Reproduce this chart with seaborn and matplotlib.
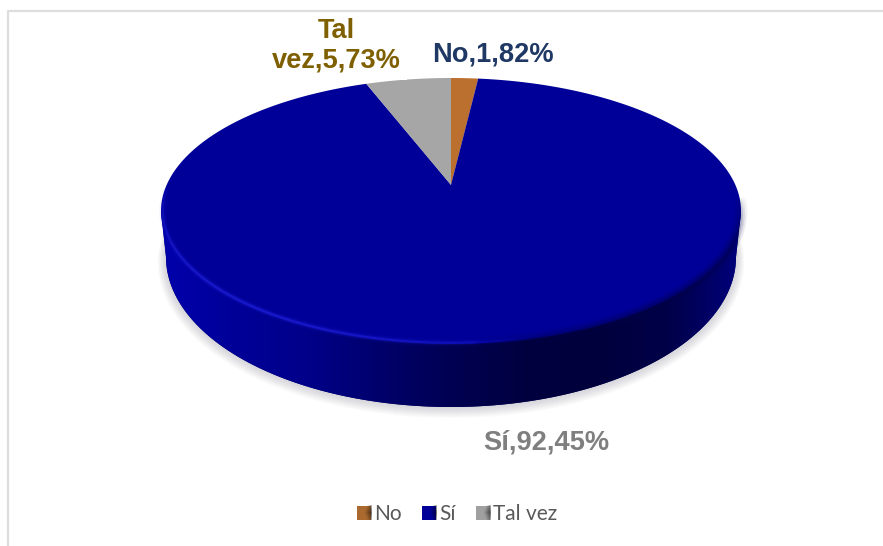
import numpy as np
import matplotlib
matplotlib.use("Agg")
import matplotlib.pyplot as plt
from matplotlib.collections import LineCollection
from matplotlib.colors import to_rgb
from matplotlib.patches import PathPatch, Polygon
from matplotlib.path import Path
from matplotlib.transforms import Transform
import seaborn as sns

# Survey answers, in percent
categories = ["No", "Sí", "Tal vez"]
shares = [1.82, 92.45, 5.73]
slice_colors = ["#BC7030", "#000098", "#A6A6A6"]
swatch_colors = ["#A9692F", "#000098", "#A0A0A0"]
label_colors = ["#1F3864", "#7F7F7F", "#7F6000"]
label_texts = ["No,1,82%", "Sí,92,45%", "Tal\nvez,5,73%"]
wall_colors = ["#0000AC", "#000098", "#00008A", "#00006C", "#000052",
               "#000040", "#00003C", "#000048", "#00007C"]


class TiltedDisc(Transform):
    """Perspective projection of the unit disc onto the page, in pixels."""
    input_dims = output_dims = 2

    def __init__(self, apex_x, apex_y, far_y, near_y, half_width):
        super().__init__()
        up, down = apex_y - far_y, near_y - apex_y
        self.k = (down - up) / (down + up)
        self.a = up * (1 + self.k)
        self.b = half_width * np.sqrt(1 - self.k ** 2)
        self.apex_x, self.apex_y = apex_x, apex_y

    def transform_non_affine(self, values):
        values = np.asarray(values, dtype=float)
        w = 1 + self.k * values[:, 1]
        return np.column_stack([self.apex_x + self.b * values[:, 0] / w,
                                self.apex_y - self.a * values[:, 1] / w])

    def transform_path_non_affine(self, path):
        # Flatten the wedge's Bezier arcs so the projected rim stays smooth
        steps = np.linspace(0, 1, 25)
        points = [curve(steps) for curve, code in path.iter_bezier() if code != Path.MOVETO]
        return Path(self.transform_non_affine(np.vstack(points)))


sns.set_theme(style="white", rc={"axes.facecolor": "white", "figure.facecolor": "white"})

fig = plt.figure(figsize=(8.83, 5.46), dpi=100)
canvas = fig.add_axes([0, 0, 1, 1])


def fix_canvas():
    canvas.set_aspect("auto")
    canvas.set_xlim(0, 883)
    canvas.set_ylim(546, 0)
    canvas.axis("off")


fix_canvas()

# Frame around the chart area, kept above the label backgrounds
canvas.plot([8, 8, 883], [546, 11, 11], color="#DDDDDD", lw=1.6, zorder=7)

top = TiltedDisc(451, 185, 78, 344, 290)
lower = TiltedDisc(451, 231, 107, 407, 285)
theta = np.linspace(0, 2 * np.pi, 720, endpoint=False)
circle = np.column_stack([np.cos(theta), np.sin(theta)])
top_pts = top.transform_non_affine(circle)
low_pts = lower.transform_non_affine(circle)

# Soft shadow under the disc
for grow in np.linspace(11, 1, 11):
    shadow = TiltedDisc(451, 231 + grow * 0.45, 107, 407 + grow, 285 + grow * 0.75)
    pts = shadow.transform_non_affine(circle)
    canvas.fill(pts[:, 0], pts[:, 1], color="#666677", alpha=0.022, lw=0, zorder=1)

# Side wall, shaded from left to right
left, right = low_pts[:, 0].argmin(), low_pts[:, 0].argmax()
order = np.arange(left, right + (720 if right < left else 0) + 1) % 720
wall_xy = np.vstack([top_pts[[top_pts[:, 0].argmin()]], low_pts[order], top_pts[[top_pts[:, 0].argmax()]]])
wall_path = Path(np.vstack([wall_xy, wall_xy[:1]]))
wall = PathPatch(wall_path, transform=canvas.transData, fc="#000060", ec="none", zorder=2)
canvas.add_patch(wall)
wall_map = sns.blend_palette(wall_colors, as_cmap=True)
shade = canvas.imshow(np.linspace(0, 1, 256)[None, :], cmap=wall_map, extent=[161, 741, 420, 190],
                      aspect="auto", zorder=2.1)
shade.set_clip_path(wall)

# Top face of the pie, laid out by the library and then tilted
wedges, _ = canvas.pie(shares, colors=slice_colors, startangle=90, counterclock=False,
                       radius=1, center=(0, 0), frame=False, wedgeprops={"linewidth": 0})
fix_canvas()
for w in wedges:
    w.set_transform(top + canvas.transData)
    w.set_zorder(3)


def rim_glow(start, stop, color, width, strength, inset=0.0):
    """Stroke part of the near rim, fading towards both ends."""
    t = np.linspace(start, stop, 200) * np.pi
    unit = (1 - inset) * np.column_stack([np.cos(t), np.sin(t)])
    xy = top.transform_non_affine(unit)
    segs = np.stack([xy[:-1], xy[1:]], axis=1)
    fade = np.sin(np.linspace(0, np.pi, len(segs))) ** 0.6
    rgba = np.column_stack([np.tile(to_rgb(color), (len(segs), 1)), strength * fade])
    canvas.add_collection(LineCollection(segs, colors=rgba, linewidths=width, zorder=4,
                                         capstyle="butt"))


# Bevel: bright edge on the left of the face, a soft dark edge on the right
for width, strength in [(5, 0.10), (3, 0.20), (1.5, 0.45)]:
    rim_glow(1.0, 1.58, "#2A2AF0", width, strength, inset=0.006)
for width, strength in [(9, 0.14), (6, 0.20), (3, 0.30)]:
    rim_glow(1.52, 1.97, "#00004C", width, strength)

# Value labels
label_font = dict(family="Liberation Sans", weight="bold", fontsize=19.6, ha="center", zorder=6)
canvas.text(492.5, 54, label_texts[0], color=label_colors[0], va="center", **label_font)
canvas.text(546, 442, label_texts[1], color=label_colors[1], va="center", **label_font)
canvas.text(336.5, 46, label_texts[2], color=label_colors[2], va="center", linespacing=1.19,
            bbox=dict(fc="white", ec="none", pad=4.5), **label_font)

# Legend, with a bevelled look on each swatch
legend_marks = [Polygon([[0, 0]], fc=c, ec="none") for c in swatch_colors]
legend = canvas.legend(legend_marks, categories, loc="center", bbox_to_anchor=(457 / 883, 1 - 514 / 546),
                       ncol=3, frameon=False, handlelength=0.68, handleheight=0.68,
                       handletextpad=0.12, columnspacing=1.0,
                       prop={"family": "Lato", "size": 15})
for t in legend.get_texts():
    t.set_color("#595959")

fig.canvas.draw()
to_data = canvas.transData.inverted()
grid = np.linspace(-1, 1, 9)
gx, gy = np.meshgrid(grid, grid)
swatch_alpha = np.clip(gx - 0.4 * np.abs(gy), 0, 1) * 0.55
swatch_shade = np.dstack([np.zeros_like(gx)] * 3 + [swatch_alpha])
for patch in legend.get_patches():
    box = patch.get_window_extent()
    (x0, y0), (x1, y1) = to_data.transform([[box.x0, box.y0], [box.x1, box.y1]])
    canvas.imshow(swatch_shade, extent=[x0, x1, y0, y1], aspect="auto",
                  interpolation="bilinear", zorder=8)
fix_canvas()

fig.savefig("out.png", dpi=100)
